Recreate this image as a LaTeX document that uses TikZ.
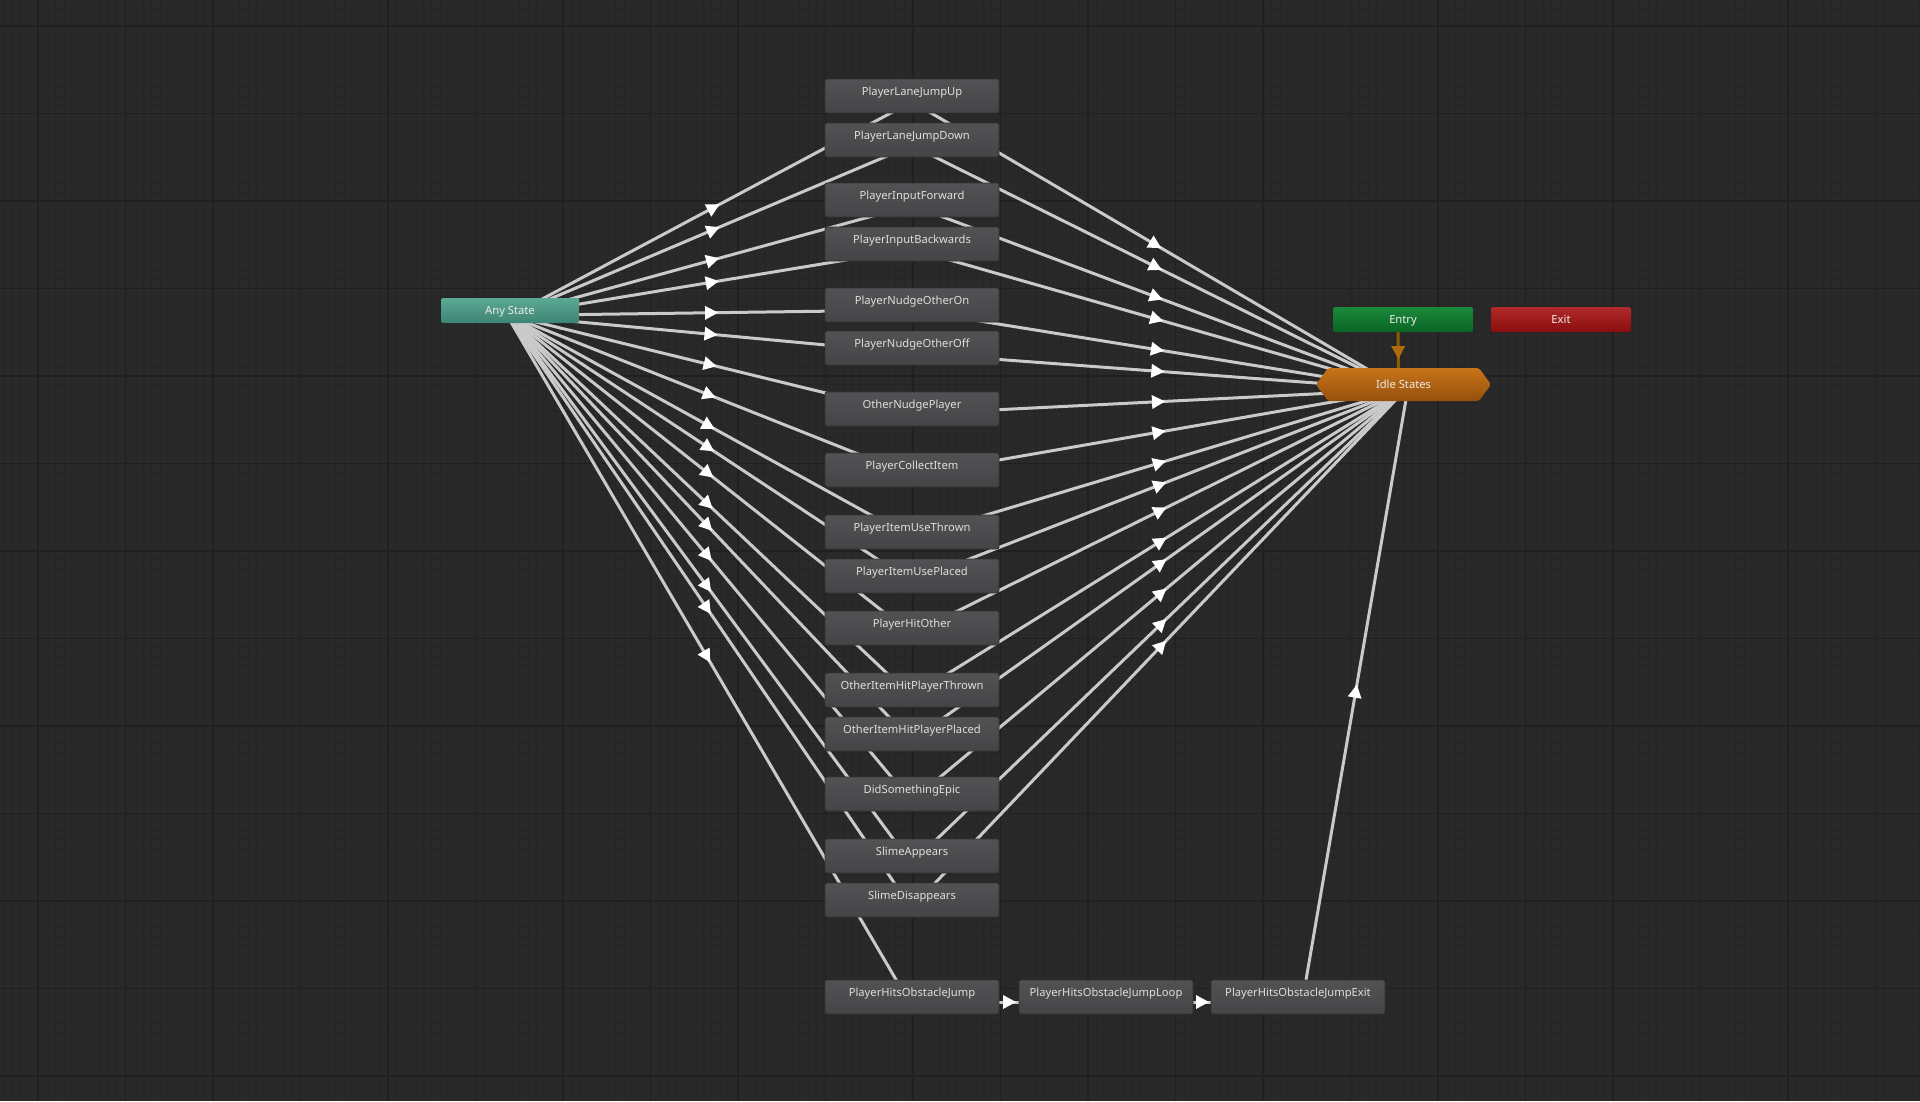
\documentclass[tikz,border=0pt]{standalone}
\usepackage{fontspec}
\setmainfont{Noto Sans}
\usetikzlibrary{calc,decorations.markings}
\definecolor{bg}{HTML}{292929}
\definecolor{minorC}{HTML}{252525}
\definecolor{majorC}{HTML}{202020}
\definecolor{stTop}{HTML}{525255}
\definecolor{stBot}{HTML}{454547}
\definecolor{stBorder}{HTML}{333333}
\definecolor{stText}{HTML}{DEDEDE}
\definecolor{anyTop}{HTML}{5BA995}
\definecolor{anyBot}{HTML}{3F8473}
\definecolor{entTop}{HTML}{1A8A3A}
\definecolor{entBot}{HTML}{0B6425}
\definecolor{exTop}{HTML}{B02A2A}
\definecolor{exBot}{HTML}{8A0D0D}
\definecolor{idTop}{HTML}{C8741A}
\definecolor{idBot}{HTML}{95500C}
\definecolor{lineC}{HTML}{CACACA}
\definecolor{orLine}{HTML}{8F5B08}
\definecolor{orTip}{HTML}{B06C0C}
\pgfdeclarelayer{gridlayer}
\pgfdeclarelayer{edgelayer}
\pgfsetlayers{gridlayer,edgelayer,main}
\tikzset{
  basebox/.style={rectangle, rounded corners=2pt, inner sep=0pt,
    font=\fontsize{11.2}{12}\selectfont},
  state/.style={basebox, draw=stBorder, line width=0.8pt, top color=stTop, bottom color=stBot,
    minimum width=174pt, minimum height=34pt, text=stText, text height=4pt, text depth=6pt},
  anyst/.style={basebox, top color=anyTop, bottom color=anyBot, minimum width=138pt,
    minimum height=25pt, text=white!92!black, text height=7.7pt, text depth=0pt},
  entryst/.style={basebox, top color=entTop, bottom color=entBot, minimum width=140pt,
    minimum height=25pt, text=white!92!black, text height=7.7pt, text depth=0pt},
  exitst/.style={basebox, top color=exTop, bottom color=exBot, minimum width=140pt,
    minimum height=25pt, text=white!92!black, text height=7.7pt, text depth=0pt},
  idlest/.style={basebox, minimum width=175pt, minimum height=33pt, text=white!92!black,
    text height=7.7pt, text depth=0pt},
  trans/.style={draw=lineC, line width=3pt, postaction={decorate},
    decoration={markings, mark=at position 0.5 with
      {\fill[white] (7pt,0pt) -- (-6pt,7pt) -- (-6pt,-7pt) -- cycle;}}},
  entrytrans/.style={draw=orLine, line width=3pt, postaction={decorate},
    decoration={markings, mark=at position 0.5 with
      {\fill[orTip] (7pt,0pt) -- (-6pt,7pt) -- (-6pt,-7pt) -- cycle;}}},
}
\newcommand\mytrans[3][trans]{\draw[#1] ($(#2.center)!5pt!-90:(#3.center)$) -- ($(#3.center)!5pt!90:(#2.center)$);}
\begin{document}
\begin{tikzpicture}[x=1pt,y=-1pt]
\useasboundingbox (0,0) rectangle (1920,1101);
\begin{pgfonlayer}{gridlayer}
  \fill[bg] (0,0) rectangle (1920,1101);
  \begin{scope}
    \clip (0,0) rectangle (1920,1101);
    \foreach \i in {-4,...,215} \draw[minorC, line width=1pt] ({38+\i*8.75},0) -- ({38+\i*8.75},1101);
    \foreach \j in {-2,...,122} \draw[minorC, line width=1pt] (0,{26+\j*8.75}) -- (1920,{26+\j*8.75});
    \foreach \i in {0,...,21} \draw[majorC, line width=1.2pt] ({38+\i*87.5},0) -- ({38+\i*87.5},1101);
    \foreach \j in {0,...,12} \draw[majorC, line width=1.2pt] (0,{26+\j*87.5}) -- (1920,{26+\j*87.5});
  \end{scope}
\end{pgfonlayer}

% states
\node[state] (s1)  at (912,96)  {PlayerLaneJumpUp};
\node[state] (s2)  at (912,140) {PlayerLaneJumpDown};
\node[state] (s3)  at (912,200) {PlayerInputForward};
\node[state] (s4)  at (912,244) {PlayerInputBackwards};
\node[state] (s5)  at (912,305) {PlayerNudgeOtherOn};
\node[state] (s6)  at (912,348) {PlayerNudgeOtherOff};
\node[state] (s7)  at (912,409) {OtherNudgePlayer};
\node[state] (s8)  at (912,470) {PlayerCollectItem};
\node[state] (s9)  at (912,532) {PlayerItemUseThrown};
\node[state] (s10) at (912,576) {PlayerItemUsePlaced};
\node[state] (s11) at (912,628) {PlayerHitOther};
\node[state] (s12) at (912,690) {OtherItemHitPlayerThrown};
\node[state] (s13) at (912,734) {OtherItemHitPlayerPlaced};
\node[state] (s14) at (912,794) {DidSomethingEpic};
\node[state] (s15) at (912,856) {SlimeAppears};
\node[state] (s16) at (912,900) {SlimeDisappears};
\node[state] (s17) at (912,997) {PlayerHitsObstacleJump};
\node[state] (s18) at (1106,997) {PlayerHitsObstacleJumpLoop};
\node[state] (s19) at (1298,997) {PlayerHitsObstacleJumpExit};

\node[anyst] (any) at (510,310.5) {Any State};
\node[entryst] (entry) at (1403,319.5) {Entry};
\node[exitst] (exit) at (1561,319.5) {Exit};
\shade[top color=idTop, bottom color=idBot, rounded corners=2pt]
  (1316,384.5) -- (1328,368) -- (1479,368) -- (1491,384.5) -- (1479,401) -- (1328,401) -- cycle;
\node[idlest] (idle) at (1403.5,384.5) {Idle States};

\begin{pgfonlayer}{edgelayer}
  \foreach \s in {s1,s2,s3,s4,s5,s6,s7,s8,s9,s10,s11,s12,s13,s14,s15,s16,s17}
    {\mytrans{any}{\s}}
  \foreach \s in {s1,s2,s3,s4,s5,s6,s7,s8,s9,s10,s11,s12,s13,s14,s15,s16}
    {\mytrans{\s}{idle}}
  \mytrans{s17}{s18}
  \mytrans{s18}{s19}
  \mytrans{s19}{idle}
  \mytrans[entrytrans]{entry}{idle}
\end{pgfonlayer}
\end{tikzpicture}
\end{document}
